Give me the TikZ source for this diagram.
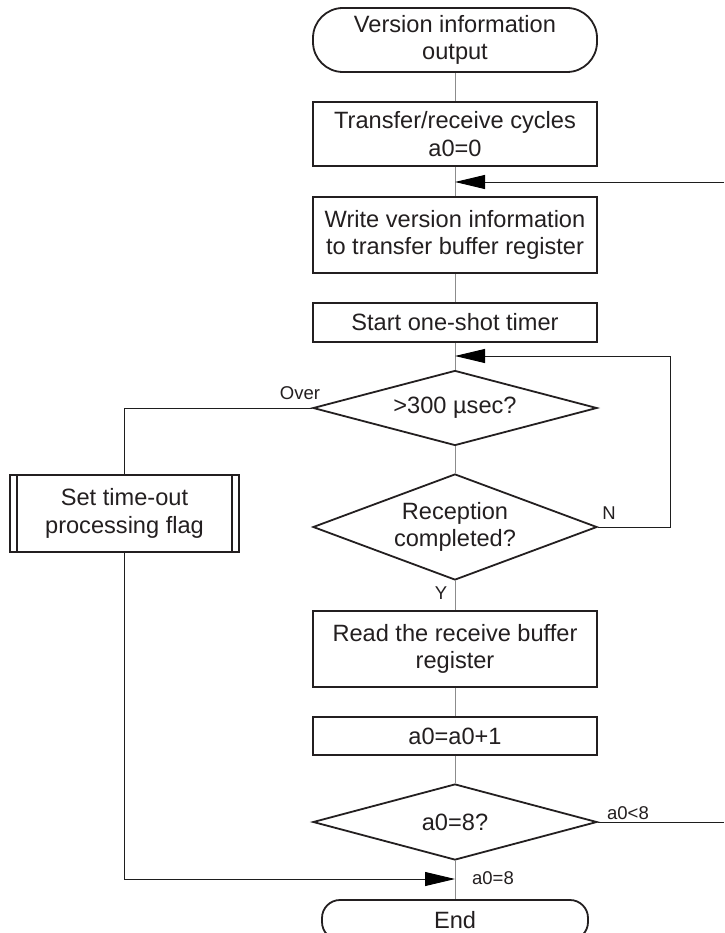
\documentclass[tikz,border=0pt]{standalone}
\usepackage{fontspec}
\setmainfont{Liberation Sans}
\usetikzlibrary{shapes.geometric,arrows.meta,calc}
\definecolor{ink}{HTML}{231F20}
\definecolor{wire}{HTML}{8C8C8C}
\definecolor{branchc}{HTML}{1E1E1E}
\newcommand{\bigtxt}{\fontsize{23.6}{27.5}\selectfont}
\newcommand{\smalltxt}{\fontsize{18.5}{21}\selectfont}

\begin{document}
\begin{tikzpicture}[x=1pt,y=-1pt,
  box/.style={draw=ink, line width=1.8pt, minimum width=284pt, align=center,
    inner sep=0pt, font=\bigtxt, text=ink},
  term/.style={box, rounded corners=30pt},
  decision/.style={diamond, draw=ink, line width=1.8pt, align=center,
    inner sep=0pt, font=\bigtxt, text=ink, minimum width=284pt},
  link/.style={draw=wire, line width=1pt},
  branch/.style={draw=branchc, line width=0.9pt},
  tip/.style={-{Triangle[length=30pt,width=14pt,fill=black,color=black]}},
  tag/.style={font=\smalltxt, text=ink, inner sep=0pt}
]
\useasboundingbox[fill=white] (0,0) rectangle (724,933);

% main column
\node[term, minimum height=64pt] (start) at (455,40) {Version information\\output};
\node[box, minimum height=64pt] (init) at (455,134) {Transfer/receive cycles\\a0=0};
\node[box, minimum height=76pt] (write) at (455,235) {Write version information\\to transfer buffer register};
\node[box, minimum height=39pt] (timer) at (455,322.5) {Start one-shot timer};
\node[decision, minimum height=75pt, shape aspect=3.8] (over) at (455,408) {>300 µsec?};
\node[decision, minimum height=106pt, shape aspect=2.7] (recv) at (455,527) {Reception\\completed?};
\node[box, minimum height=76pt] (read) at (455,649) {Read the receive buffer\\register};
\node[box, minimum height=38pt] (inc) at (455,736) {a0=a0+1};
\node[decision, minimum height=76pt, shape aspect=3.7] (done) at (455,822) {a0=8?};
\node[box, rounded corners=18pt, minimum width=266pt, minimum height=40pt] (end) at (455,920) {End};

% time-out branch (predefined process box)
\node[box, minimum width=229pt, minimum height=77pt] (flag) at (124.5,513.5) {Set time-out\\processing flag};
\draw[ink, line width=1.5pt] ([xshift=8pt]flag.north west) -- ([xshift=8pt]flag.south west);
\draw[ink, line width=1.5pt] ([xshift=-8pt]flag.north east) -- ([xshift=-8pt]flag.south east);

% junctions on the main line
\coordinate (jtop) at (455,182);
\coordinate (jloop) at (455,356);
\coordinate (jend) at (455,879);
\coordinate (rtop) at (724,182);
\coordinate (rbot) at (724,822);

% main line connectors
\draw[link] (start) -- (init);
\draw[link] (init) -- (write);
\draw[link] (write) -- (timer);
\draw[link] (timer) -- (over);
\draw[link] (over) -- (recv);
\draw[link] (recv) -- (read);
\draw[link] (read) -- (inc);
\draw[link] (inc) -- (done);
\draw[link] (done) -- (end);

% loops and branches
\draw[branch, tip] (rtop) -- (jtop);
\draw[branch, tip] (recv.east) -- ++(73,0) |- (jloop);
\draw[branch] (over.west) -| (flag.north);
\draw[branch, tip] (flag.south) |- (jend);
\draw[branch] (done.east) -- (rbot);

% branch labels
\node[tag] (lover) at (300,393) {Over};
\node[tag] (lno) at (609,513) {N};
\node[tag] (lyes) at (441,593) {Y};
\node[tag] (lless) at (628,813) {a0<8};
\node[tag] (leq) at (493,878) {a0=8};
\end{tikzpicture}
\end{document}
